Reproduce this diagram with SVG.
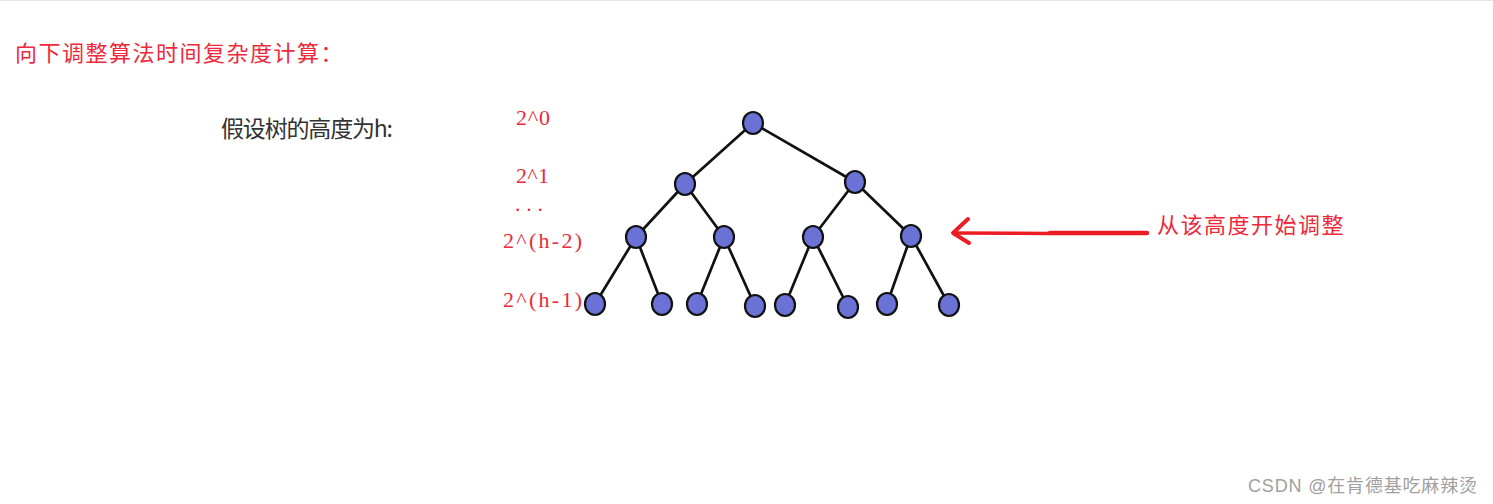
<svg xmlns="http://www.w3.org/2000/svg" width="1493" height="504" viewBox="0 0 1493 504">
<style>
.red{fill:#ec2a3b;font-family:"Noto Sans CJK SC",sans-serif;font-size:22px;letter-spacing:1.5px}
.lbl{fill:#ec2a3b;font-family:"Liberation Serif",serif;font-size:22px}
.node ellipse{fill:#6b72d6;stroke:#111;stroke-width:2.2}
.edge{stroke:#111;stroke-width:2.7;fill:none}
</style>
<rect width="1493" height="504" fill="#fff"/>
<line x1="0" y1="0.5" x2="1493" y2="0.5" stroke="#e6e6e6"/>
<text class="red" x="15" y="61">向下调整算法时间复杂度计算：</text>
<text x="221" y="137" fill="#333" font-family="'Noto Sans CJK SC',sans-serif" font-size="23" font-weight="400" textLength="172">假设树的高度为h:</text>
<g id="levels">
<text class="lbl" x="516" y="125" textLength="34">2^0</text>
<text class="lbl" x="516" y="183" textLength="33">2^1</text>
<text class="lbl" x="515" y="211" textLength="28">...</text>
<text class="lbl" x="503" y="248" textLength="79">2^(h-2)</text>
<text class="lbl" x="503" y="307" textLength="79">2^(h-1)</text>
</g>
<g id="connectors">
<path class="edge" d="M753,123 L685,184 M753,123 L855,182 M685,184 L636,237 M685,184 L724,237 M855,182 L813,237 M855,182 L911,236 M636,237 L595,304 M636,237 L662,304 M724,237 L697,304 M724,237 L755,306 M813,237 L785,305 M813,237 L848,307 M911,236 L887,304 M911,236 L949,305"/>
<g id="arrow" stroke="#ec1c24" stroke-linecap="round" stroke-linejoin="round" fill="none">
<path d="M1147,233 L1050,233" stroke-width="4.5"/>
<path d="M1050,233.5 L954,233" stroke-width="3.5"/>
<path d="M968,219 L953,233 L969,243" stroke-width="4"/>
</g>
</g>
<g id="n0" class="node"><ellipse cx="753" cy="123" rx="10" ry="11"/></g>
<g id="n1" class="node"><ellipse cx="685" cy="184" rx="10" ry="11"/></g>
<g id="n2" class="node"><ellipse cx="855" cy="182" rx="10" ry="11"/></g>
<g id="n3" class="node"><ellipse cx="636" cy="237" rx="10" ry="11"/></g>
<g id="n4" class="node"><ellipse cx="724" cy="237" rx="10" ry="11"/></g>
<g id="n5" class="node"><ellipse cx="813" cy="237" rx="10" ry="11"/></g>
<g id="n6" class="node"><ellipse cx="911" cy="236" rx="10" ry="11"/></g>
<g id="n7" class="node"><ellipse cx="595" cy="304" rx="10" ry="11"/></g>
<g id="n8" class="node"><ellipse cx="662" cy="304" rx="10" ry="11"/></g>
<g id="n9" class="node"><ellipse cx="697" cy="304" rx="10" ry="11"/></g>
<g id="n10" class="node"><ellipse cx="755" cy="306" rx="10" ry="11"/></g>
<g id="n11" class="node"><ellipse cx="785" cy="305" rx="10" ry="11"/></g>
<g id="n12" class="node"><ellipse cx="848" cy="307" rx="10" ry="11"/></g>
<g id="n13" class="node"><ellipse cx="887" cy="304" rx="10" ry="11"/></g>
<g id="n14" class="node"><ellipse cx="949" cy="305" rx="10" ry="11"/></g>
<text class="red" x="1157" y="233">从该高度开始调整</text>
<text x="1248" y="492" fill="#a0a0a0" font-family="'Liberation Sans','Noto Sans CJK SC',sans-serif" font-size="18" textLength="229">CSDN @在肯德基吃麻辣烫</text>
</svg>
